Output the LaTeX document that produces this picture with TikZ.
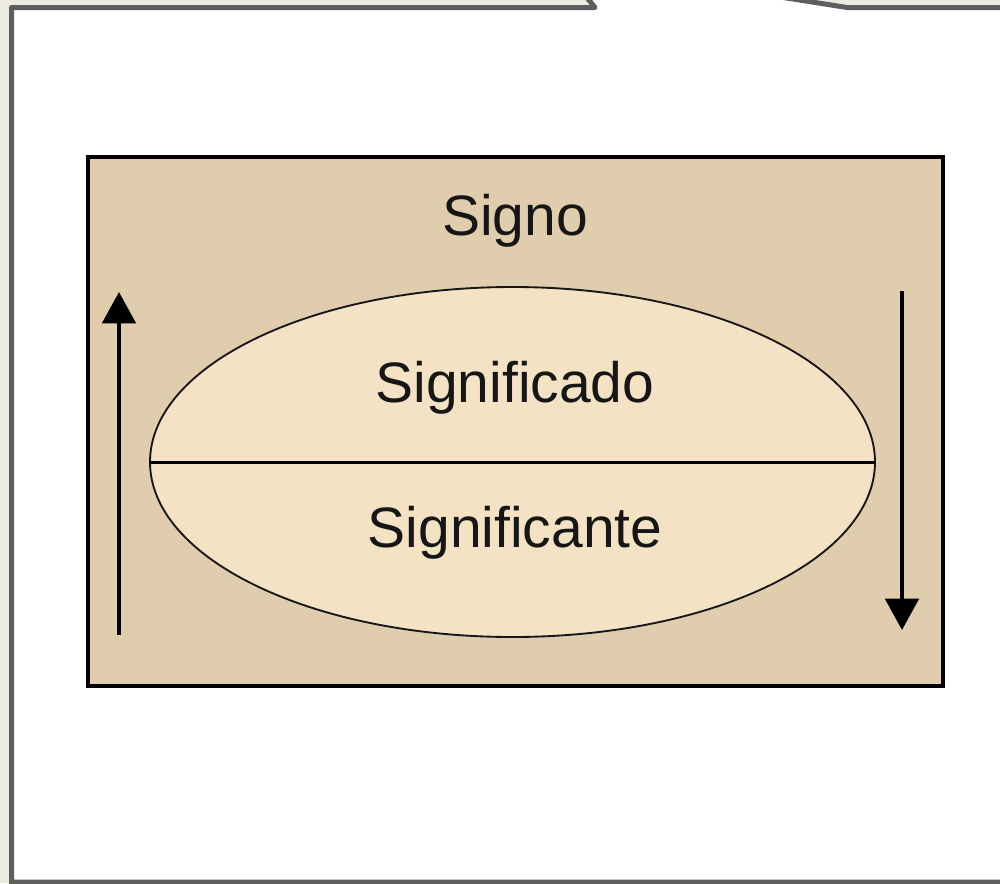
\documentclass[tikz,border=0pt]{standalone}
\usepackage{fontspec}
\setmainfont{Liberation Sans}
\usetikzlibrary{arrows.meta,shapes.geometric}
\definecolor{pagebg}{HTML}{EDEBE0}
\definecolor{framegray}{HTML}{5E5E5E}
\definecolor{boxtan}{HTML}{E0CDAD}
\definecolor{elltan}{HTML}{F4E2C4}
\definecolor{inkcol}{HTML}{161616}
\begin{document}
\begin{tikzpicture}[x=0.75pt,y=-0.75pt,
  lbl/.style={anchor=base,inner sep=0pt,text=inkcol,font=\fontsize{42.75pt}{50pt}\selectfont},
  flowarrow/.style={line width=3pt,-{Triangle[length=23.5pt,width=25pt]}},
  signbox/.style={draw=black,line width=3pt,fill=boxtan,rectangle,inner sep=0pt,minimum width=641.25pt,minimum height=396.75pt},
  signell/.style={draw=inkcol,line width=1.4pt,fill=elltan,ellipse,inner sep=0pt,minimum width=543.75pt,minimum height=262.5pt}]
\useasboundingbox (0,0) rectangle (1000,883);
\clip (0,0) rectangle (1000,883);
\fill[pagebg] (0,0) rectangle (1000,883);
% callout frame
\draw[framegray,line width=3.75pt,line join=round,fill=white]
  (11.5,900) -- (11.5,7.5) -- (595,7.5) -- (558,-38) -- (847,7.5) -- (1020,7.5) -- (1020,882) -- (11.5,882) -- cycle;
% main box
\node[signbox] (box) at (515.5,421.5) {};
\node[signell] (ell) at (512.5,462) {};
\draw[line width=2.25pt] (ell.west) -- (ell.east);
% labels
\node[lbl] (signo) at (515,235) {Signo};
\node[lbl] (sdo) at (515,402) {Significado};
\node[lbl] (ste) at (515,547) {Significante};
% arrows
\coordinate (la0) at (119,635);
\coordinate (la1) at (119,292);
\coordinate (ra0) at (902,291);
\coordinate (ra1) at (902,630);
\draw[flowarrow] (la0) -- (la1);
\draw[flowarrow] (ra0) -- (ra1);
\end{tikzpicture}
\end{document}
